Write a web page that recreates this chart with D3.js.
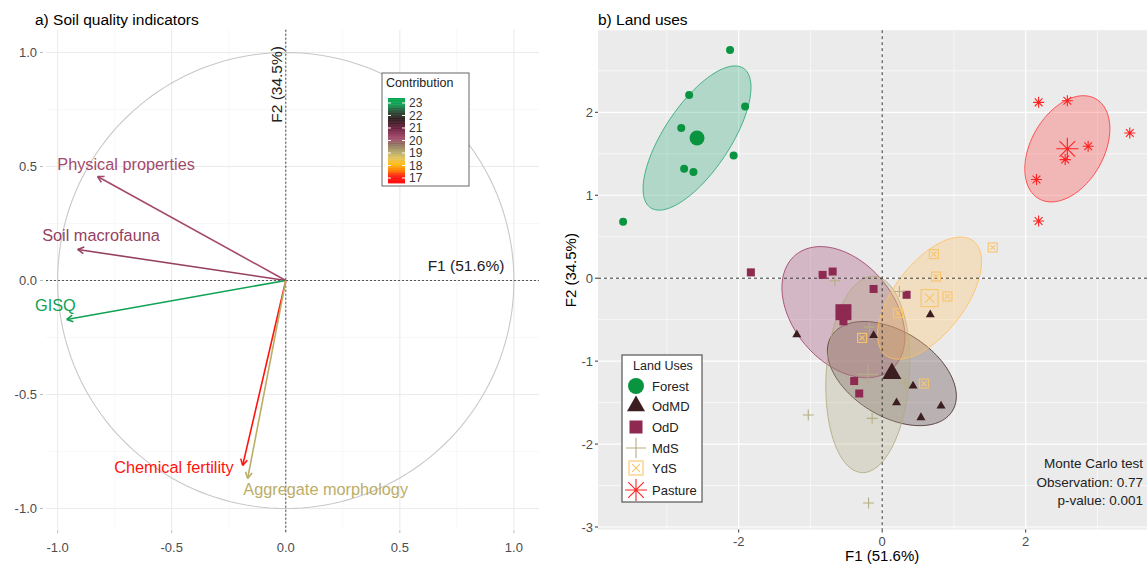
<!DOCTYPE html>
<html>
<head>
<meta charset="utf-8">
<script src="https://cdn.jsdelivr.net/npm/d3@7"></script>
<style>
  body { margin: 0; background: #fff; }
  svg { display: block; }
  text { font-family: "Liberation Sans", Arial, sans-serif; }
</style>
</head>
<body>
<svg id="chart" width="1147" height="566"></svg>
<script>
// ---------- a) Soil quality indicators: correlation circle ----------
const varNames   = ["Physical properties", "Soil macrofauna", "GISQ", "Chemical fertility", "Aggregate morphology"];
const varF1      = [-0.825, -0.912, -0.960, -0.189, -0.167];
const varF2      = [ 0.456,  0.136, -0.171, -0.811, -0.868];
const varContrib = [20.2, 20.4, 23.0, 17.0, 19.0];
const contribTicks = [17, 18, 19, 20, 21, 22, 23];
const ticksA = [-1.0, -0.5, 0.0, 0.5, 1.0];

// ---------- b) Land uses: PCA scores by group ----------
const groups = ["Forest", "OdMD", "OdD", "MdS", "YdS", "Pasture"];
const groupF1 = [
  [-2.12, -2.69, -1.91, -2.80, -2.07, -2.76, -2.63, -3.61],
  [-1.19, -0.12, 0.67, 0.43, 0.20, 0.54, 0.82],
  [-1.83, -0.83, -0.69, -0.12, 0.34, -0.54, -0.39, -0.32],
  [-0.66, 0.24, -0.18, 0.32, -1.03, -0.14, -0.19],
  [0.72, 1.54, 0.75, 0.91, 0.22, -0.28, 0.58],
  [2.18, 2.58, 3.45, 2.87, 2.55, 2.15, 2.18]
];
const groupF2 = [
  [2.75, 2.21, 2.07, 1.81, 1.48, 1.32, 1.28, 0.68],
  [-0.68, -0.69, -0.44, -1.30, -1.50, -1.68, -1.54],
  [0.07, 0.04, 0.08, -0.13, -0.20, -0.52, -1.24, -1.39],
  [-0.03, -0.16, -0.59, -1.26, -1.65, -1.69, -2.71],
  [0.29, 0.37, 0.02, -0.22, -0.42, -0.72, -1.27],
  [2.12, 2.14, 1.75, 1.59, 1.43, 1.19, 0.69]
];
const centroidF1 = [-2.58, 0.135, -0.54, -0.20, 0.66, 2.58];
const centroidF2 = [1.69, -1.15, -0.41, -1.16, -0.24, 1.56];
// ellipse half-axes (conjugate vectors, in F1/F2 units)
const ellU1 = [0.647, 0.843, 0.670, 0.086, 0.610, 0.397];
const ellU2 = [0.841, -0.451, -0.688, 1.184, 0.689, 0.602];
const ellV1 = [0.383, -0.311, -0.534, 0.579, 0.391, 0.440];
const ellV2 = [-0.221, -0.437, -0.390, -0.031, -0.260, -0.218];
const ticksBx = [-2, 0, 2];
const ticksBy = [-3, -2, -1, 0, 1, 2];
const testLines = ["Monte Carlo test", "Observation: 0.77", "p-value: 0.001"];

// ---------- styles ----------
const groupColor   = ["#0a9440", "#3d1e20", "#8e2a52", "#b5ae82", "#f9c46a", "#ff2222"];
const ellipseColor = ["#2aa878", "#4a3030", "#a0406a", "#b0aa80", "#ffc060", "#ff3a3a"];
const groupShape   = ["circle", "triangle", "square", "plus", "squarex", "star"];
const pointSize    = [8, 9, 8, 11, 9, 11];
const centroidSize = [15, 19, 16, 20, 17, 22];
const legendSize   = [16, 18, 13, 20, 14, 22];

const contribColor = d3.scaleLinear()
  .domain([16.6, 17.15, 17.6, 18.1, 18.6, 19.1, 19.7, 20.2, 21, 21.7, 22.3, 22.9, 23.4])
  .range(["#ff0000", "#ff1a10", "#ff7a00", "#ffbb10", "#e2c35c", "#b3a86a", "#907060",
          "#a44a6c", "#6a1e3e", "#2e1c1c", "#2a4a34", "#12a055", "#00a84c"])
  .clamp(true);

const svg = d3.select("#chart");

// ===================== panel a =====================
const xA = d3.scaleLinear().domain([-1.051, 1.11]).range([46, 539]);
const yA = d3.scaleLinear().domain([-1.09, 1.10]).range([529, 29.7]);
const gA = svg.append("g");

// grid (major every 0.5, minor every 0.25)
d3.range(-1, 1.0001, 0.25).forEach(v => {
  const major = Math.abs(v * 2 - Math.round(v * 2)) < 1e-6;
  const st = major ? "#ebebeb" : "#f4f4f4";
  const sw = major ? 1.1 : 0.6;
  gA.append("line").attr("x1", xA(v)).attr("x2", xA(v))
    .attr("y1", yA.range()[0]).attr("y2", yA.range()[1])
    .attr("stroke", st).attr("stroke-width", sw);
  gA.append("line").attr("y1", yA(v)).attr("y2", yA(v))
    .attr("x1", xA.range()[0]).attr("x2", xA.range()[1])
    .attr("stroke", st).attr("stroke-width", sw);
});

// axis ticks and labels
ticksA.forEach(v => {
  gA.append("line").attr("x1", xA(v)).attr("x2", xA(v)).attr("y1", 530).attr("y2", 533)
    .attr("stroke", "#bbb");
  gA.append("text").attr("x", xA(v)).attr("y", 552).attr("text-anchor", "middle")
    .attr("font-size", 13).attr("fill", "#4d4d4d").text(v.toFixed(1));
  gA.append("line").attr("x1", 40).attr("x2", 43).attr("y1", yA(v)).attr("y2", yA(v))
    .attr("stroke", "#bbb");
  gA.append("text").attr("x", 37).attr("y", yA(v)).attr("dy", "0.35em").attr("text-anchor", "end")
    .attr("font-size", 13).attr("fill", "#4d4d4d").text(v.toFixed(1));
});

// unit circle
const circlePts = d3.range(0, 361, 2).map(a => [xA(Math.cos(a * Math.PI / 180)), yA(Math.sin(a * Math.PI / 180))]);
gA.append("path").attr("d", d3.line()(circlePts) + "Z")
  .attr("fill", "none").attr("stroke", "#c8c8c8").attr("stroke-width", 1.1);

// origin axes
gA.append("line").attr("x1", xA(0)).attr("x2", xA(0)).attr("y1", yA.range()[1]).attr("y2", yA.range()[0] + 4)
  .attr("stroke", "#555").attr("stroke-width", 1.1).attr("stroke-dasharray", "2,2");
gA.append("line").attr("y1", yA(0)).attr("y2", yA(0)).attr("x1", xA.range()[0]).attr("x2", xA.range()[1])
  .attr("stroke", "#555").attr("stroke-width", 1.1).attr("stroke-dasharray", "2,2");

// axis titles on the origin lines
gA.append("text").attr("transform", `translate(${xA(0) - 4},${yA(0.86)}) rotate(-90)`)
  .attr("text-anchor", "middle").attr("font-size", 15.5).attr("fill", "#222").text("F2 (34.5%)");
gA.append("text").attr("x", xA(0.79)).attr("y", yA(0) - 9).attr("text-anchor", "middle")
  .attr("font-size", 15.5).attr("fill", "#222").text("F1 (51.6%)");

// variable arrows
const labelSpotA = [[-0.70, 0.51], [-0.81, 0.20], [-1.01, -0.11], [-0.49, -0.82], [0.175, -0.915]];
varNames.forEach((name, i) => {
  const col = contribColor(varContrib[i]);
  const x0 = xA(0), y0 = yA(0), x1 = xA(varF1[i]), y1 = yA(varF2[i]);
  gA.append("line").attr("x1", x0).attr("y1", y0).attr("x2", x1).attr("y2", y1)
    .attr("stroke", col).attr("stroke-width", 1.6);
  const ang = Math.atan2(y1 - y0, x1 - x0);
  [-0.5, 0.5].forEach(d => {
    const a = ang + Math.PI + d;
    gA.append("line").attr("x1", x1).attr("y1", y1)
      .attr("x2", x1 + 7 * Math.cos(a)).attr("y2", y1 + 7 * Math.sin(a))
      .attr("stroke", col).attr("stroke-width", 1.6);
  });
  gA.append("text").attr("x", xA(labelSpotA[i][0])).attr("y", yA(labelSpotA[i][1])).attr("dy", "0.35em")
    .attr("text-anchor", "middle").attr("font-size", 16.3).attr("fill", col).text(name);
});

// contribution colour bar
const cbY = d3.scaleLinear().domain([17, 23]).range([178, 103]);
const leg = gA.append("g");
leg.append("rect").attr("x", 382).attr("y", 73).attr("width", 87).attr("height", 113)
  .attr("fill", "#fff").attr("stroke", "#666").attr("stroke-width", 1);
leg.append("text").attr("x", 386).attr("y", 87).attr("font-size", 12.5).attr("fill", "#222").text("Contribution");
d3.range(16.6, 23.4, 0.05).forEach(v => {
  leg.append("rect").attr("x", 388).attr("y", cbY(v + 0.05)).attr("width", 17)
    .attr("height", Math.abs(cbY(v) - cbY(v + 0.05)) + 0.4).attr("fill", contribColor(v));
});
contribTicks.forEach(v => {
  leg.append("line").attr("x1", 388).attr("x2", 391).attr("y1", cbY(v)).attr("y2", cbY(v)).attr("stroke", "#fff");
  leg.append("line").attr("x1", 402).attr("x2", 405).attr("y1", cbY(v)).attr("y2", cbY(v)).attr("stroke", "#fff");
  leg.append("text").attr("x", 409).attr("y", cbY(v)).attr("dy", "0.36em")
    .attr("font-size", 12).attr("fill", "#333").text(v);
});

// title a
svg.append("text").attr("x", 35).attr("y", 25).attr("font-size", 15.5).attr("fill", "#000")
  .text("a) Soil quality indicators");

// ===================== panel b =====================
const xB = d3.scaleLinear().domain([-3.96, 3.69]).range([598, 1147]);
const yB = d3.scaleLinear().domain([-3.03, 2.99]).range([529.5, 30.2]);
const gB = svg.append("g");

gB.append("rect").attr("x", xB.range()[0]).attr("y", yB.range()[1])
  .attr("width", xB.range()[1] - xB.range()[0]).attr("height", yB.range()[0] - yB.range()[1])
  .attr("fill", "#ebebeb");

// grid
d3.range(-3, 3.01, 1).forEach(v => {
  const major = v % 2 === 0;
  gB.append("line").attr("x1", xB(v)).attr("x2", xB(v)).attr("y1", yB.range()[0]).attr("y2", yB.range()[1])
    .attr("stroke", "#fff").attr("stroke-width", major ? 1.2 : 0.6);
});
d3.range(-3, 3.01, 0.5).forEach(v => {
  const major = Math.abs(v - Math.round(v)) < 1e-6;
  if (yB(v) < yB.range()[1] - 0.1 || yB(v) > yB.range()[0] + 0.1) return;
  gB.append("line").attr("y1", yB(v)).attr("y2", yB(v)).attr("x1", xB.range()[0]).attr("x2", xB.range()[1])
    .attr("stroke", "#fff").attr("stroke-width", major ? 1.2 : 0.6);
});

// ticks and labels
ticksBx.forEach(v => {
  gB.append("line").attr("x1", xB(v)).attr("x2", xB(v)).attr("y1", yB.range()[0]).attr("y2", yB.range()[0] + 3)
    .attr("stroke", "#333");
  gB.append("text").attr("x", xB(v)).attr("y", 545.5).attr("text-anchor", "middle")
    .attr("font-size", 13).attr("fill", "#4d4d4d").text(v);
});
ticksBy.forEach(v => {
  gB.append("line").attr("x1", 595).attr("x2", 598).attr("y1", yB(v)).attr("y2", yB(v)).attr("stroke", "#333");
  gB.append("text").attr("x", 593).attr("y", yB(v)).attr("dy", "0.35em").attr("text-anchor", "end")
    .attr("font-size", 13).attr("fill", "#4d4d4d").text(v);
});
gB.append("text").attr("x", xB(0)).attr("y", 561).attr("text-anchor", "middle")
  .attr("font-size", 15).attr("fill", "#000").text("F1 (51.6%)");
gB.append("text").attr("transform", `translate(571,${yB(0) - 8}) rotate(-90)`).attr("dy", "0.35em")
  .attr("text-anchor", "middle").attr("font-size", 15).attr("fill", "#000").text("F2 (34.5%)");

// group ellipses
const ellLine = d3.line();
groups.forEach((g, i) => {
  const pts = d3.range(0, 361, 3).map(a => {
    const t = a * Math.PI / 180;
    const fx = centroidF1[i] + ellU1[i] * Math.cos(t) + ellV1[i] * Math.sin(t);
    const fy = centroidF2[i] + ellU2[i] * Math.cos(t) + ellV2[i] * Math.sin(t);
    return [xB(fx), yB(fy)];
  });
  gB.append("path").attr("d", ellLine(pts) + "Z")
    .attr("fill", ellipseColor[i]).attr("fill-opacity", 0.3)
    .attr("stroke", ellipseColor[i]).attr("stroke-opacity", 0.85).attr("stroke-width", 1);
});

// origin axes
gB.append("line").attr("x1", xB(0)).attr("x2", xB(0)).attr("y1", yB.range()[1]).attr("y2", yB.range()[0])
  .attr("stroke", "#333").attr("stroke-width", 1).attr("stroke-dasharray", "3,3");
gB.append("line").attr("y1", yB(0)).attr("y2", yB(0)).attr("x1", xB.range()[0]).attr("x2", xB.range()[1])
  .attr("stroke", "#333").attr("stroke-width", 1).attr("stroke-dasharray", "3,3");

// symbol drawer
function drawShape(g, shape, cx, cy, s, col) {
  const h = s / 2;
  if (shape === "circle") {
    g.append("circle").attr("cx", cx).attr("cy", cy).attr("r", h).attr("fill", col);
  } else if (shape === "triangle") {
    const th = s * 0.866;
    g.append("path").attr("d", `M${cx},${cy - 2 * th / 3}L${cx - h},${cy + th / 3}L${cx + h},${cy + th / 3}Z`)
      .attr("fill", col);
  } else if (shape === "square") {
    g.append("rect").attr("x", cx - h).attr("y", cy - h).attr("width", s).attr("height", s).attr("fill", col);
  } else if (shape === "plus") {
    g.append("path").attr("d", `M${cx - h},${cy}H${cx + h}M${cx},${cy - h}V${cy + h}`)
      .attr("stroke", col).attr("stroke-width", 1.1).attr("fill", "none");
  } else if (shape === "squarex") {
    const q = h * 0.55;
    g.append("rect").attr("x", cx - h).attr("y", cy - h).attr("width", s).attr("height", s)
      .attr("fill", "none").attr("stroke", col).attr("stroke-width", 1.1);
    g.append("path").attr("d", `M${cx - q},${cy - q}L${cx + q},${cy + q}M${cx - q},${cy + q}L${cx + q},${cy - q}`)
      .attr("stroke", col).attr("stroke-width", 1.1);
  } else if (shape === "star") {
    const d = h * 0.707;
    g.append("path").attr("d",
      `M${cx - h},${cy}H${cx + h}M${cx},${cy - h}V${cy + h}` +
      `M${cx - d},${cy - d}L${cx + d},${cy + d}M${cx - d},${cy + d}L${cx + d},${cy - d}`)
      .attr("stroke", col).attr("stroke-width", 1.1).attr("fill", "none");
  }
}

// points and centroids
groups.forEach((g, i) => {
  groupF1[i].forEach((f1, j) => {
    drawShape(gB, groupShape[i], xB(f1), yB(groupF2[i][j]), pointSize[i], groupColor[i]);
  });
  drawShape(gB, groupShape[i], xB(centroidF1[i]), yB(centroidF2[i]), centroidSize[i], groupColor[i]);
});

// legend
const lgB = gB.append("g");
lgB.append("rect").attr("x", 622).attr("y", 355).attr("width", 80).attr("height", 147)
  .attr("fill", "#fff").attr("stroke", "#555").attr("stroke-width", 1.2);
lgB.append("text").attr("x", 663).attr("y", 370).attr("text-anchor", "middle")
  .attr("font-size", 12.5).attr("fill", "#222").text("Land Uses");
const legY = [386, 406, 427, 448, 468, 490];
groups.forEach((g, i) => {
  drawShape(lgB, groupShape[i], 636, legY[i], legendSize[i], groupColor[i]);
  lgB.append("text").attr("x", 652).attr("y", legY[i]).attr("dy", "0.36em")
    .attr("font-size", 13).attr("fill", "#222").text(g);
});

// permutation test result
testLines.forEach((t, i) => {
  gB.append("text").attr("x", 1143).attr("y", 468 + i * 18.5).attr("text-anchor", "end")
    .attr("font-size", 13.5).attr("fill", "#222").text(t);
});

// title b
svg.append("text").attr("x", 598).attr("y", 25).attr("font-size", 15.5).attr("fill", "#000")
  .text("b) Land uses");
</script>
</body>
</html>
